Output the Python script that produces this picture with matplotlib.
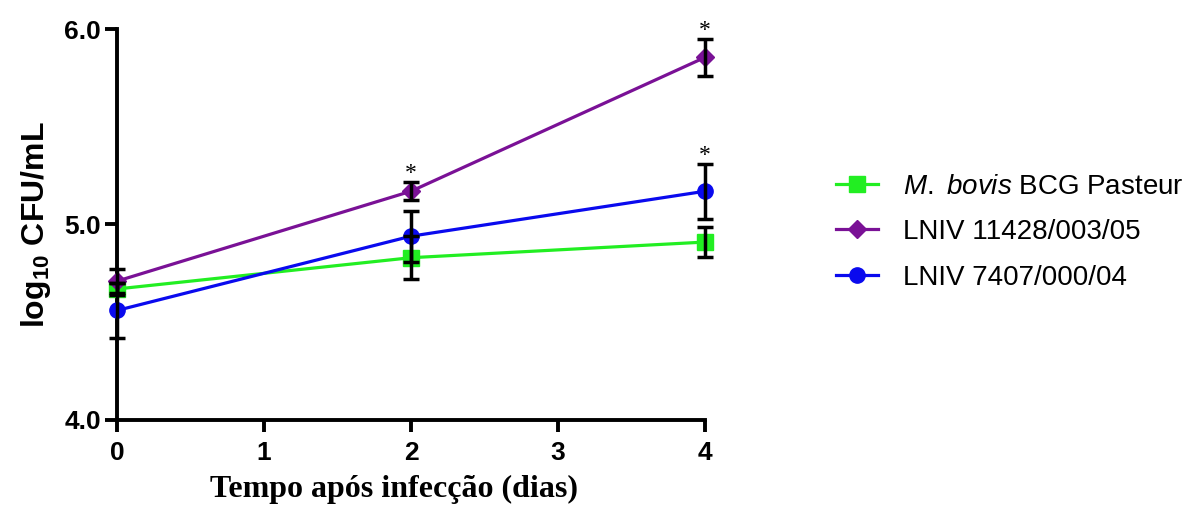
import matplotlib.pyplot as plt
import numpy as np

days = [0, 2, 4]
bcg = [4.67, 4.83, 4.91]
bcg_err = [0.03, 0.11, 0.075]
lniv11428 = [4.71, 5.17, 5.855]
lniv11428_err = [0.06, 0.045, 0.095]
lniv7407 = [4.56, 4.94, 5.17]
lniv7407_err = [0.14, 0.13, 0.14]
star_idx = [(1, 1), (1, 2), (2, 2)]  # (serie, ponto) com asterisco

series = [
    (bcg, bcg_err, '#22ee22', 's', r'$\it{M.\ bovis}$ BCG Pasteur'),
    (lniv11428, lniv11428_err, '#7a1196', 'D', 'LNIV 11428/003/05'),
    (lniv7407, lniv7407_err, '#0a0aee', 'o', 'LNIV 7407/000/04'),
]

plt.rcParams['font.family'] = ['Liberation Sans', 'DejaVu Sans']
plt.rcParams['mathtext.fontset'] = 'custom'
plt.rcParams['mathtext.rm'] = 'Liberation Sans'
plt.rcParams['mathtext.it'] = 'Liberation Sans:italic'
plt.rcParams['mathtext.bf'] = 'Liberation Sans:bold'

fig = plt.figure(figsize=(11.93, 5.09), dpi=100)
ax = fig.add_axes([0.098, 0.175, 0.493, 0.768])

for vals, err, col, mk, lab in series:
    ms = 9.5 if mk == 'D' else 11
    ax.plot(days, vals, color=col, marker=mk, markersize=ms, linewidth=2.3,
            label=lab, zorder=3, clip_on=False)
for vals, err, col, mk, lab in series:
    ax.errorbar(days, vals, yerr=err, fmt='none', ecolor='black', elinewidth=2.5,
                capsize=5.5, capthick=2.5, zorder=4, clip_on=False)

for si, pi in star_idx:
    vals, err = series[si][0], series[si][1]
    ax.text(days[pi], vals[pi] + err[pi] - 0.01, '*', ha='center', va='bottom',
            fontsize=17, family='Liberation Serif')

ax.set_xlim(0, 4)
ax.set_ylim(4.0, 6.0)
ax.set_xticks([0, 1, 2, 3, 4])
ax.set_yticks([4.0, 5.0, 6.0])
ax.set_yticklabels(['4.0', '5.0', '6.0'])
for s in ['top', 'right']:
    ax.spines[s].set_visible(False)
for s in ['left', 'bottom']:
    ax.spines[s].set_linewidth(2.8)
ax.tick_params(width=2.8, length=8.5, labelsize=19, direction='out')
ax.tick_params(axis='x', pad=7)
ax.tick_params(axis='y', pad=3)
for t in ax.get_xticklabels() + ax.get_yticklabels():
    t.set_fontweight('bold')

ax.set_ylabel(r'log$_{\mathbf{10}}$ CFU/mL', fontsize=23, fontweight='bold', labelpad=8)
ax.set_xlabel('Tempo após infecção (dias)', fontsize=23, fontweight='bold',
              family='Liberation Serif')
ax.xaxis.set_label_coords(0.471, -0.14)

fig.legend(loc='center left', bbox_to_anchor=(0.680, 0.544), frameon=False,
           fontsize=20, handlelength=1.5, handletextpad=0.9, labelspacing=0.7)

fig.savefig('out.png', dpi=100)
